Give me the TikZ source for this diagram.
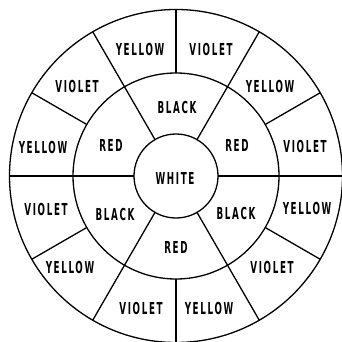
\documentclass[tikz,border=0pt]{standalone}
\usepackage{fontspec}
\newfontfamily\labfont[FakeStretch=0.53,LetterSpace=10]{DejaVu Sans Bold}
\begin{document}
\begin{tikzpicture}[x=1pt,y=-1pt,
  ring/.style={line width=1.3pt,black},
  lab/.style={font=\labfont\fontsize{16.5}{18}\selectfont,inner sep=0pt,anchor=center}]
\useasboundingbox (0,0) rectangle (342,342);
\coordinate (c) at (176,176);
% circles
\draw[ring] (c) circle[radius=166.5];
\draw[ring] (c) circle[radius=103];
\draw[ring] (c) circle[radius=42];
% long radial lines (inner to outer)
\foreach \a in {0,60,120,180,240,300}
  \draw[ring] ([shift={(\a:42)}]c) -- ([shift={(\a:166.5)}]c);
% short radial lines (middle to outer)
\foreach \a in {30,90,150,210,270,330}
  \draw[ring] ([shift={(\a:103)}]c) -- ([shift={(\a:166.5)}]c);
% centre
\node[lab] (w) at (175,178) {WHITE};
% middle ring
\node[lab] (m1) at (177,107) {BLACK};
\node[lab] (m2) at (111,145) {RED};
\node[lab] (m3) at (237,145) {RED};
\node[lab] (m4) at (115,214) {BLACK};
\node[lab] (m5) at (236,213) {BLACK};
\node[lab] (m6) at (176,247) {RED};
% outer ring
\node[lab] (o1) at (140,49) {YELLOW};
\node[lab] (o2) at (211,49) {VIOLET};
\node[lab] (o3) at (77,86) {VIOLET};
\node[lab] (o4) at (270,86) {YELLOW};
\node[lab] (o5) at (43,147) {YELLOW};
\node[lab] (o6) at (305,146) {VIOLET};
\node[lab] (o7) at (46,209) {VIOLET};
\node[lab] (o8) at (307,208) {YELLOW};
\node[lab] (o9) at (70,267) {YELLOW};
\node[lab] (o10) at (272,267) {VIOLET};
\node[lab] (o11) at (141,308) {VIOLET};
\node[lab] (o12) at (209,308) {YELLOW};
\end{tikzpicture}
\end{document}
